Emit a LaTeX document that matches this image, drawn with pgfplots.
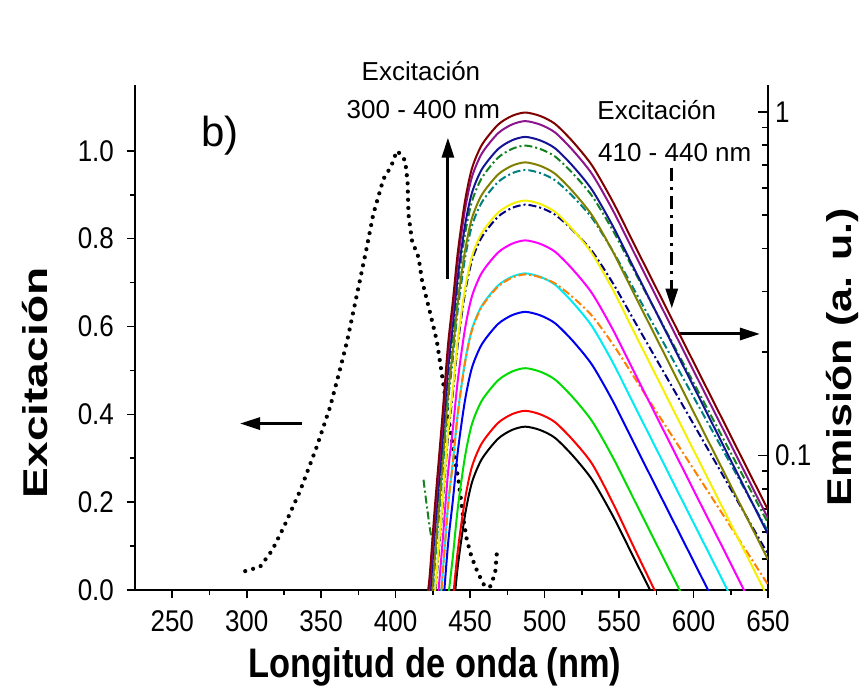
\documentclass[border=0pt]{standalone}
\usepackage{graphicx}
\usepackage{fontspec}
\setmainfont{Liberation Sans}
\usepackage{pgfplots}
\pgfplotsset{compat=1.18}
\usetikzlibrary{arrows.meta}
\newcommand{\st}[1]{\scalebox{1}[1.15]{#1}}
\definecolor{cMaroon}{RGB}{128,0,0}
\definecolor{cPurple}{RGB}{140,20,140}
\definecolor{cNavyS}{RGB}{20,20,150}
\definecolor{cGreenDD}{RGB}{20,130,30}
\definecolor{cOlive}{RGB}{128,128,0}
\definecolor{cTeal}{RGB}{0,128,128}
\definecolor{cYellow}{RGB}{245,240,0}
\definecolor{cNavy}{RGB}{0,0,128}
\definecolor{cMagenta}{RGB}{255,0,255}
\definecolor{cCyan}{RGB}{0,235,245}
\definecolor{cOrange}{RGB}{255,128,0}
\definecolor{cBlue}{RGB}{0,0,240}
\definecolor{cGreen}{RGB}{0,220,0}
\definecolor{cRed}{RGB}{250,0,0}
\begin{document}
\begin{tikzpicture}
\pgfplotsset{
  emis/.style={line width=1pt, smooth, tension=0.45, no markers},
  dd/.style={dash pattern=on 4pt off 1.5pt on 1pt off 1.5pt},
}
% ---------------- left axis: excitation ----------------
\begin{axis}[
  scale only axis, width=316.5pt, height=252.5pt,
  xmin=225, xmax=650, ymin=0, ymax=1.15,
  axis x line*=bottom, axis y line*=left,
  axis line style={line width=0.9pt, -},
  every tick/.style={line width=0.8pt, black},
  tick align=outside,
  major tick length=4pt, minor tick length=2.5pt,
  xtick={250,300,...,650}, minor x tick num=1,
  ytick={0,0.2,...,1.0}, minor y tick num=1,
  ticklabel style={font=\fontsize{13}{13}\selectfont},
  xticklabel style={yshift=-3pt},
  yticklabel style={xshift=-3pt},
  xticklabel={\st{\pgfmathprintnumber[assume math mode=true]{\tick}}},
  yticklabel={\st{\pgfmathprintnumber[assume math mode=true,fixed,fixed zerofill,precision=1]{\tick}}},
  xlabel={\scalebox{1}[1.2]{\bfseries Longitud de onda (nm)}},
  ylabel={\scalebox{1.34}[1]{\bfseries Excitación}},
  label style={font=\fontsize{17.2}{17.2}\selectfont},
  xlabel style={at={(axis description cs:0.474,-0.152)}, anchor=center},
  ylabel style={at={(axis description cs:-0.158,0.41)}, anchor=center, rotate=0},
  clip=false,
]
\addplot[black, line width=2.1pt, line cap=round, dash pattern=on 0pt off 4.1pt] coordinates {
(299,0.043)(309,0.053)(317,0.09)(325,0.144)(336,0.227)(347,0.326)(356,0.417)(363,0.507)(367.5,0.568)(376,0.705)(380.6,0.78)(385,0.856)(391.8,0.936)(397,0.965)(400.8,1.0)(404,0.99)(406.4,0.977)(408,0.93)(408.6,0.856)(411,0.795)(415.4,0.757)(417.7,0.705)(422.5,0.64)(427.6,0.568)(432,0.47)(435,0.40)(438.9,0.318)(442.2,0.25)(445.6,0.159)(447.8,0.114)(451,0.075)(454.5,0.045)(458,0.02)(460,0.0075)(463.4,0.0075)(466.8,0.038)(468,0.087)
};
\node[font=\fontsize{21}{21}\selectfont] at (axis cs:282,1.034) {b)};
\node[font=\fontsize{13}{13}\selectfont] at (axis cs:417,1.182) {Excitación};
\node[font=\fontsize{13}{13}\selectfont] at (axis cs:418.6,1.093) {300 - 400 nm};
\node[font=\fontsize{13}{13}\selectfont] at (axis cs:575.3,1.093) {Excitación};
\node[font=\fontsize{13}{13}\selectfont] at (axis cs:587.4,0.996) {410 - 440 nm};
\draw[line width=1.5pt, -{Triangle[length=10pt,width=6pt]}] (axis cs:435.1,0.709) -- (axis cs:435.1,1.030);
\draw[line width=1.5pt, dash pattern=on 6.5pt off 3pt on 1.5pt off 3pt, -{Triangle[length=10pt,width=6pt]}] (axis cs:585.4,0.962) -- (axis cs:585.4,0.641);
\draw[line width=1.5pt, -{Triangle[length=10pt,width=6pt]}] (axis cs:589.6,0.583) -- (axis cs:644.6,0.583);
\draw[line width=1.5pt, -{Triangle[length=10pt,width=6pt]}] (axis cs:336.9,0.379) -- (axis cs:295.5,0.379);
\end{axis}
% ---------------- right axis: emission (log) ----------------
\begin{axis}[
  scale only axis, width=316.5pt, height=252.5pt,
  xmin=225, xmax=650, ymode=log, ymin=0.0406, ymax=1.197,
  axis x line=none, axis y line*=right,
  axis line style={line width=0.9pt, -},
  every tick/.style={line width=0.8pt, black},
  tick align=inside,
  major tick length=5pt, minor tick length=3pt,
  ytick={0.1,1}, yticklabels={\st{0.1},\st{1}},
  minor ytick={0.05,0.06,0.07,0.08,0.09,0.2,0.3,0.4,0.5,0.6,0.7,0.8,0.9},
  ticklabel style={font=\fontsize{13}{13}\selectfont},
  ylabel={\scalebox{1.25}[1]{\bfseries Emisión (a. u.)}},
  label style={font=\fontsize{17.2}{17.2}\selectfont},
  ylabel style={at={(axis description cs:1.117,0.461)}, anchor=center, rotate=0},
  clip=true,
]
\addplot[emis, black] coordinates {(435.1,0.0254)(438.4,0.0343)(441.8,0.0479)(446.5,0.0668)(451.2,0.0834)(457.9,0.0977)(468.6,0.1117)(478.0,0.1186)(487.0,0.1213)(497.0,0.1186)(507.0,0.1125)(519.0,0.0998)(532.0,0.0849)(546.0,0.0665)(560.0,0.0503)(575.0,0.0374)(590.0,0.0278)};
\addplot[emis, cRed] coordinates {(435.1,0.0282)(438.4,0.0381)(441.8,0.0532)(446.5,0.0743)(451.2,0.0927)(457.9,0.1086)(468.6,0.1242)(478.0,0.1318)(487.0,0.1349)(497.0,0.1318)(507.0,0.1250)(519.0,0.1109)(532.0,0.0944)(546.0,0.0725)(560.0,0.0540)(575.0,0.0396)(590.0,0.0290)};
\addplot[emis, cGreen] coordinates {(431.0,0.0223)(435.1,0.0376)(438.4,0.0507)(441.8,0.0708)(446.5,0.0989)(451.2,0.1233)(457.9,0.1445)(468.6,0.1652)(478.0,0.1754)(487.0,0.1795)(497.0,0.1754)(507.0,0.1663)(519.0,0.1476)(532.0,0.1256)(546.0,0.0984)(560.0,0.0745)(575.0,0.0553)(590.0,0.0411)(605.0,0.0305)};
\addplot[emis, cBlue] coordinates {(426.3,0.01857)(431.0,0.0326)(435.1,0.0548)(438.4,0.0740)(441.8,0.1033)(446.5,0.1442)(451.2,0.1799)(457.9,0.2108)(468.6,0.2410)(478.0,0.2558)(487.0,0.2618)(497.0,0.2558)(507.0,0.2426)(519.0,0.2153)(532.0,0.1832)(546.0,0.1435)(560.0,0.1086)(575.0,0.0807)(590.0,0.0600)(605.0,0.0446)(620.0,0.0331)};
\addplot[emis, cCyan] coordinates {(426.3,0.0240)(431.0,0.0422)(435.1,0.0709)(438.4,0.0957)(441.8,0.1337)(446.5,0.1866)(451.2,0.2328)(457.9,0.2729)(468.6,0.3119)(478.0,0.3311)(487.0,0.3388)(497.0,0.3311)(507.0,0.3141)(519.0,0.2786)(532.0,0.2371)(546.0,0.1858)(560.0,0.1406)(575.0,0.1045)(590.0,0.0776)(605.0,0.0577)(620.0,0.0429)(635.0,0.0318)(650.0,0.0237)};
\addplot[emis, dd, cOrange] coordinates {(426.3,0.0239)(431.0,0.0419)(435.1,0.0705)(438.4,0.0951)(441.8,0.1328)(446.5,0.1854)(451.2,0.2312)(457.9,0.2711)(468.6,0.3098)(478.0,0.3289)(487.0,0.3365)(497.0,0.3302)(507.0,0.3168)(519.0,0.2886)(532.0,0.2545)(546.0,0.2103)(560.0,0.1693)(575.0,0.1342)(590.0,0.1065)(605.0,0.0845)(620.0,0.0670)(635.0,0.0531)(650.0,0.0421)};
\addplot[emis, cMagenta] coordinates {(423.0,0.0193)(426.3,0.0300)(431.0,0.0526)(435.1,0.0885)(438.4,0.1194)(441.8,0.1667)(446.5,0.2328)(451.2,0.2904)(457.9,0.3404)(468.6,0.3891)(478.0,0.4130)(487.0,0.4226)(497.0,0.4130)(507.0,0.3917)(519.0,0.3475)(532.0,0.2958)(546.0,0.2317)(560.0,0.1754)(575.0,0.1303)(590.0,0.0968)(605.0,0.0719)(620.0,0.0535)(635.0,0.0397)(650.0,0.0295)};
\addplot[emis, dd, cNavy] coordinates {(421.6,0.0215)(423.0,0.0245)(426.3,0.0381)(431.0,0.0668)(435.1,0.1124)(438.4,0.1517)(441.8,0.2119)(446.5,0.2958)(451.2,0.3690)(457.9,0.4325)(468.6,0.4943)(478.0,0.5248)(487.0,0.5370)(497.0,0.5263)(507.0,0.5023)(519.0,0.4520)(532.0,0.3924)(546.0,0.3165)(560.0,0.2476)(575.0,0.1906)(590.0,0.1468)(605.0,0.1131)(620.0,0.0871)(635.0,0.0670)(650.0,0.0516)};
\addplot[emis, cYellow] coordinates {(421.6,0.0221)(423.0,0.0252)(426.3,0.0392)(431.0,0.0687)(435.1,0.1156)(438.4,0.1560)(441.8,0.2178)(446.5,0.3041)(451.2,0.3793)(457.9,0.4446)(468.6,0.5082)(478.0,0.5395)(487.0,0.5520)(497.0,0.5395)(507.0,0.5117)(519.0,0.4539)(532.0,0.3863)(546.0,0.3027)(560.0,0.2290)(575.0,0.1702)(590.0,0.1264)(605.0,0.0939)(620.0,0.0698)(635.0,0.0519)(650.0,0.0385)};
\addplot[emis, dd, cTeal] coordinates {(421.6,0.0271)(423.0,0.0310)(426.3,0.0481)(431.0,0.0844)(435.1,0.1419)(438.4,0.1914)(441.8,0.2673)(446.5,0.3733)(451.2,0.4656)(457.9,0.5458)(468.6,0.6238)(478.0,0.6622)(487.0,0.6777)(497.0,0.6636)(507.0,0.6324)(519.0,0.5671)(532.0,0.4897)(546.0,0.3922)(560.0,0.3044)(575.0,0.2323)(590.0,0.1773)(605.0,0.1353)(620.0,0.1032)(635.0,0.0788)(650.0,0.0601)};
\addplot[emis, cOlive] coordinates {(421.6,0.0285)(423.0,0.0326)(426.3,0.0506)(431.0,0.0887)(435.1,0.1492)(438.4,0.2014)(441.8,0.2812)(446.5,0.3926)(451.2,0.4897)(457.9,0.5741)(468.6,0.6562)(478.0,0.6966)(487.0,0.7128)(497.0,0.6966)(507.0,0.6607)(519.0,0.5861)(532.0,0.4988)(546.0,0.3908)(560.0,0.2957)(575.0,0.2198)(590.0,0.1633)(605.0,0.1213)(620.0,0.0902)(635.0,0.0670)(650.0,0.0498)};
\addplot[emis, dd, cGreenDD] coordinates {(418.7,0.085)(421.0,0.071)(424.0,0.058)(426.3,0.061)(431.0,0.0993)(435.1,0.1671)(438.4,0.2254)(441.8,0.3148)(446.5,0.4396)(451.2,0.5483)(457.9,0.6427)(468.6,0.7346)(478.0,0.7798)(487.0,0.7980)(497.0,0.7798)(507.0,0.7415)(519.0,0.6617)(532.0,0.5679)(546.0,0.4504)(560.0,0.3456)(575.0,0.2606)(590.0,0.1966)(605.0,0.1483)(620.0,0.1118)(635.0,0.0843)(650.0,0.0636)};
\addplot[emis, cNavyS] coordinates {(421.6,0.0338)(423.0,0.0386)(426.3,0.0600)(431.0,0.1052)(435.1,0.1770)(438.4,0.2388)(441.8,0.3335)(446.5,0.4656)(451.2,0.5808)(457.9,0.6808)(468.6,0.7781)(478.0,0.8260)(487.0,0.8453)(497.0,0.8260)(507.0,0.7835)(519.0,0.6951)(532.0,0.5916)(546.0,0.4635)(560.0,0.3507)(575.0,0.2606)(590.0,0.1936)(605.0,0.1439)(620.0,0.1069)(635.0,0.0794)(650.0,0.0590)};
\addplot[emis, cPurple] coordinates {(420.0,0.0323)(421.6,0.0376)(423.0,0.0430)(426.3,0.0667)(431.0,0.1170)(435.1,0.1968)(438.4,0.2655)(441.8,0.3707)(446.5,0.5176)(451.2,0.6457)(457.9,0.7569)(468.6,0.8651)(478.0,0.9183)(487.0,0.9398)(497.0,0.9183)(507.0,0.8710)(519.0,0.7727)(532.0,0.6577)(546.0,0.5153)(560.0,0.3899)(575.0,0.2897)(590.0,0.2153)(605.0,0.1599)(620.0,0.1189)(635.0,0.0883)(650.0,0.0656)};
\addplot[emis, cMaroon] coordinates {(420.0,0.0342)(421.6,0.0398)(423.0,0.0455)(426.3,0.0706)(431.0,0.1239)(435.1,0.2084)(438.4,0.2812)(441.8,0.3927)(446.5,0.5483)(451.2,0.6839)(457.9,0.8017)(468.6,0.9163)(478.0,0.9727)(487.0,0.9954)(497.0,0.9727)(507.0,0.9226)(519.0,0.8185)(532.0,0.6966)(546.0,0.5458)(560.0,0.4130)(575.0,0.3069)(590.0,0.2280)(605.0,0.1694)(620.0,0.1259)(635.0,0.0935)(650.0,0.0695)};
\end{axis}
\path (-67.5pt,-49pt) rectangle (365.5pt,295pt);
\end{tikzpicture}
\end{document}
